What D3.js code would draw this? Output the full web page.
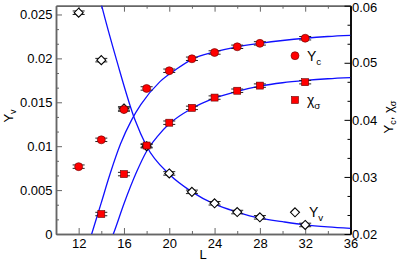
<!DOCTYPE html>
<html>
<head>
<meta charset="utf-8">
<script src="https://cdn.jsdelivr.net/npm/d3@7"></script>
<style>
  body { margin: 0; background: #fff; }
  svg { display: block; font-family: "Liberation Sans", Arial, sans-serif; }
  .tick text { font-size: 13px; fill: #000; }
</style>
</head>
<body>
<div id="chart-area"></div>
<script>
// data
var sizes = [12, 14, 16, 18, 20, 22, 24, 26, 28, 32];
var yv = [0.0252, 0.0198, 0.0143, 0.0100, 0.0069, 0.0048, 0.0035, 0.0025, 0.0019, 0.00103];
var yc = [0.0318, 0.0365, 0.0418, 0.0455, 0.0486, 0.0507, 0.0518, 0.0528, 0.0534, 0.0543];
var chiSizes = [14, 16, 18, 20, 22, 24, 26, 28, 32];
var chi = [0.0235, 0.0305, 0.0355, 0.0395, 0.0421, 0.0439, 0.0451, 0.0460, 0.0466];
var errLeft = 0.0002, errRight = 0.0003;

// fit curves
var fitVL = [13.6, 14.03, 15.35, 16.97, 18, 20, 22, 24, 26, 28, 30, 32, 34, 36];
var fitV  = [0.0282, 0.026, 0.0198, 0.013, 0.0100, 0.0068, 0.0048, 0.0034, 0.0025, 0.0018, 0.0014, 0.00105, 0.00082, 0.00065];
var fitCL = [13.0, 13.15, 14.0, 14.77, 15.7, 16.68, 17.5, 19.18, 20.65, 22, 24, 26, 28, 30, 32, 34, 36];
var fitC  = [0.0190, 0.0200, 0.0255, 0.0305, 0.0358, 0.0400, 0.0427, 0.0467, 0.0489, 0.0506, 0.0519, 0.0528, 0.0534, 0.0539, 0.0543, 0.0546, 0.0548];
var fitXL = [14.9, 15.06, 16, 17.1, 18, 19, 20, 22, 24, 26, 28, 30, 32, 34, 36];
var fitX  = [0.0192, 0.0200, 0.0253, 0.0308, 0.0345, 0.0372, 0.0393, 0.0420, 0.0438, 0.0450, 0.0459, 0.0465, 0.0469, 0.0472, 0.0474];

var xMajor = [12, 16, 20, 24, 28, 32, 36];
var xMinor = [14, 18, 22, 26, 30, 34];
var leftMajor = [0, 0.005, 0.01, 0.015, 0.02, 0.025];
var leftLabels = ["0", "0.005", "0.01", "0.015", "0.02", "0.025"];
var rightMajor = [0.02, 0.03, 0.04, 0.05, 0.06];
var rightLabels = ["0.02", "0.03", "0.04", "0.05", "0.06"];

var W = 399, H = 262;
var margin = {top: 5.7, left: 56, bottom: 28, right: 48.5};
var width = W - margin.left - margin.right;
var height = H - margin.top - margin.bottom;

var svg = d3.select("#chart-area").append("svg")
	.attr("width", W)
	.attr("height", H);
var g = svg.append("g")
	.attr("transform", "translate(" + margin.left + "," + margin.top + ")");

var x = d3.scaleLinear().domain([10, 36]).range([0, width]);
var yL = d3.scaleLinear().domain([0, 0.026]).range([height, 0]);
var yR = d3.scaleLinear().domain([0.02, 0.06]).range([height, 0]);

g.append("clipPath").attr("id", "clip")
	.append("rect").attr("width", width).attr("height", height);

// minor tick values
var leftMinor = [];
leftMajor.forEach(function(v){ leftMinor.push(v + 0.005/3, v + 0.01/3); });
leftMinor = leftMinor.filter(function(v){ return v < 0.026; });
var rightMinor = [];
rightMajor.slice(0, 4).forEach(function(v){ rightMinor.push(v + 0.01/3, v + 0.02/3); });

var frame = "#666";
function style(sel, col){
	sel.selectAll("path").attr("stroke", col).attr("stroke-width", 1.5);
	sel.selectAll("line").attr("stroke", col).attr("stroke-width", 1);
}

// bottom
style(g.append("g").attr("transform", "translate(0," + height + ")")
	.call(d3.axisBottom(x).tickValues(xMajor).tickSize(-6).tickSizeOuter(0).tickPadding(5).tickFormat(d3.format("d"))), frame);
style(g.append("g").attr("transform", "translate(0," + height + ")")
	.call(d3.axisBottom(x).tickValues(xMinor).tickSize(-3).tickSizeOuter(0).tickFormat("")), frame);
// top
style(g.append("g")
	.call(d3.axisTop(x).tickValues(xMajor).tickSize(-6).tickSizeOuter(0).tickFormat("")), frame);
style(g.append("g")
	.call(d3.axisTop(x).tickValues(xMinor).tickSize(-3).tickSizeOuter(0).tickFormat("")), frame);
// left
style(g.append("g")
	.call(d3.axisLeft(yL).tickValues(leftMajor).tickSize(-6).tickSizeOuter(0).tickPadding(3.5)
		.tickFormat(function(d, i){ return leftLabels[i]; })), frame);
style(g.append("g")
	.call(d3.axisLeft(yL).tickValues(leftMinor).tickSize(-3).tickSizeOuter(0).tickFormat("")), frame);
// right
var rAxis = g.append("g").attr("transform", "translate(" + width + ",0)")
	.call(d3.axisRight(yR).tickValues(rightMajor).tickSize(-6).tickSizeOuter(0).tickPadding(1.5)
		.tickFormat(function(d, i){ return rightLabels[i]; }));
style(rAxis, "#000");
rAxis.selectAll(".tick text").filter(function(d){ return d === 0.06; }).attr("dy", "0.42em");
style(g.append("g").attr("transform", "translate(" + width + ",0)")
	.call(d3.axisRight(yR).tickValues(rightMinor).tickSize(-3).tickSizeOuter(0).tickFormat("")), "#000");

// fit lines
var fits = [
	{L: fitVL, v: fitV, y: yL},
	{L: fitCL, v: fitC, y: yR},
	{L: fitXL, v: fitX, y: yR}
];
fits.forEach(function(f){
	var pts = f.L.map(function(l, i){ return [x(l), f.y(f.v[i])]; });
	g.append("path")
		.attr("clip-path", "url(#clip)")
		.attr("d", d3.line().curve(d3.curveMonotoneX)(pts))
		.attr("fill", "none")
		.attr("stroke", "#1010ff")
		.attr("stroke-width", 1.3);
});

// error bars (caps) then markers
function errBars(Ls, vals, yS, err){
	Ls.forEach(function(l, i){
		var cx = x(l);
		[vals[i] - err, vals[i] + err].forEach(function(v){
			g.append("line")
				.attr("x1", cx - 6).attr("x2", cx + 6)
				.attr("y1", yS(v)).attr("y2", yS(v))
				.attr("stroke", "#222").attr("stroke-width", 1);
		});
		g.append("line")
			.attr("x1", cx).attr("x2", cx)
			.attr("y1", yS(vals[i] - err)).attr("y2", yS(vals[i] + err))
			.attr("stroke", "#222").attr("stroke-width", 1);
	});
}

var diamond = "M0,-4.5L4.5,0L0,4.5L-4.5,0Z";

errBars(sizes, yv, yL, errLeft);
g.selectAll(".dia").data(sizes).enter().append("path")
	.attr("class", "dia")
	.attr("d", diamond)
	.attr("transform", function(d, i){ return "translate(" + x(d) + "," + yL(yv[i]) + ")"; })
	.attr("fill", "#fff").attr("stroke", "#000").attr("stroke-width", 1.1);

errBars(sizes, yc, yR, errRight);
g.selectAll(".circ").data(sizes).enter().append("circle")
	.attr("class", "circ")
	.attr("cx", function(d){ return x(d); })
	.attr("cy", function(d, i){ return yR(yc[i]); })
	.attr("r", 4)
	.attr("fill", "#ff0000").attr("stroke", "#600").attr("stroke-width", 0.6);

errBars(chiSizes, chi, yR, errRight);
g.selectAll(".sq").data(chiSizes).enter().append("rect")
	.attr("class", "sq")
	.attr("x", function(d){ return x(d) - 3.5; })
	.attr("y", function(d, i){ return yR(chi[i]) - 3.5; })
	.attr("width", 7).attr("height", 7)
	.attr("fill", "#ff0000").attr("stroke", "#600").attr("stroke-width", 0.6);

// legend (page coordinates)
var leg = svg.append("g");
leg.append("circle").attr("cx", 295).attr("cy", 55.7).attr("r", 4)
	.attr("fill", "#ff0000").attr("stroke", "#600").attr("stroke-width", 0.6);
leg.append("rect").attr("x", 291.5).attr("y", 96.5).attr("width", 7).attr("height", 7)
	.attr("fill", "#ff0000").attr("stroke", "#600").attr("stroke-width", 0.6);
leg.append("path").attr("d", diamond).attr("transform", "translate(295,212.3)")
	.attr("fill", "#fff").attr("stroke", "#000").attr("stroke-width", 1.1);

function subText(parent, xx, yy, main, sub, size){
	var t = parent.append("text").attr("x", xx).attr("y", yy)
		.attr("font-size", size + "px");
	t.append("tspan").text(main);
	t.append("tspan").attr("dy", 4).attr("font-size", (size * 0.7) + "px").text(sub);
	return t;
}
subText(leg, 307, 60.5, "Y", "c", 14);
subText(leg, 307, 104.5, "\u03c7", "\u03c3", 14);
subText(leg, 309, 217, "Y", "v", 14);

// axis titles
svg.append("text")
	.attr("x", 203).attr("y", 259)
	.attr("text-anchor", "middle").attr("font-size", "13px")
	.text("L");

var lt = svg.append("text")
	.attr("transform", "translate(13,116) rotate(-90)")
	.attr("text-anchor", "middle").attr("font-size", "13px");
lt.append("tspan").text("Y");
lt.append("tspan").attr("dy", 3).attr("font-size", "9px").text("v");

var rt = svg.append("text")
	.attr("transform", "translate(393,117) rotate(-90)")
	.attr("text-anchor", "middle").attr("font-size", "13px");
rt.append("tspan").text("Y");
rt.append("tspan").attr("dy", 3).attr("font-size", "9px").text("c");
rt.append("tspan").attr("dy", -3).text(", \u03c7");
rt.append("tspan").attr("dy", 3).attr("font-size", "9px").text("\u03c3");
</script>
</body>
</html>
